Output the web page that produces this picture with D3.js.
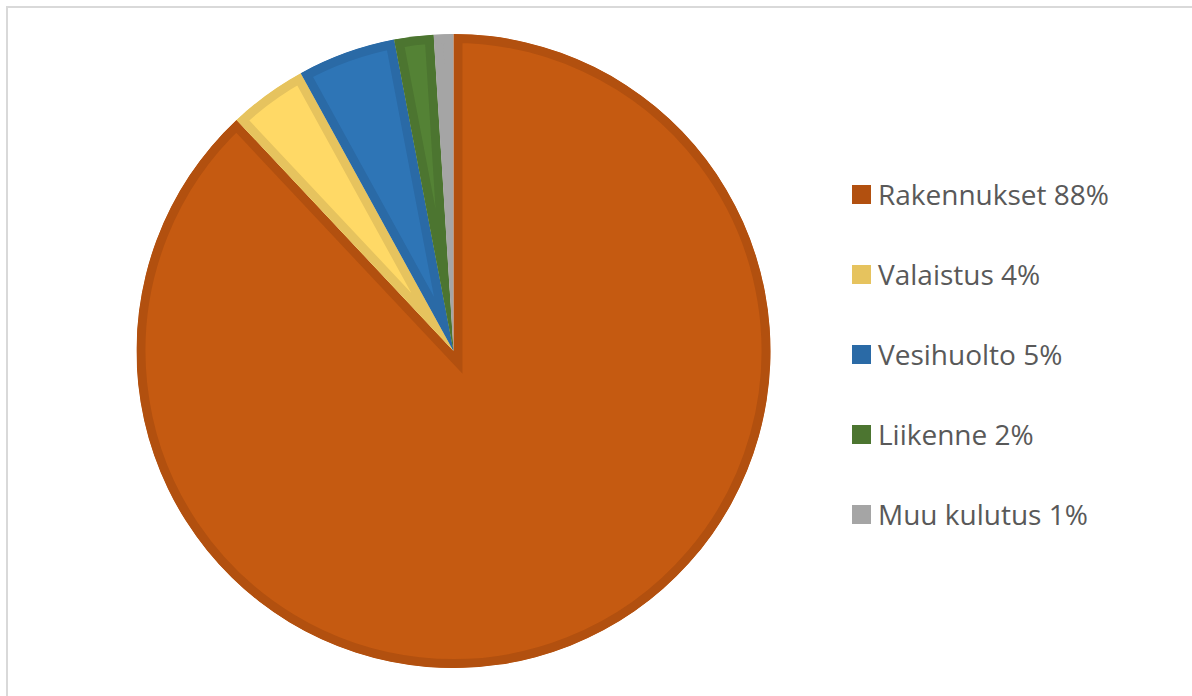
<!DOCTYPE html>
<html>
<head>
<meta charset="utf-8">
<script src="https://d3js.org/d3.v7.min.js"></script>
<style>
  body { margin: 0; background: #fff; }
  svg { display: block; }
</style>
</head>
<body>
<svg id="chart" width="1192" height="696"></svg>
<script>
// data
var labels = ["Rakennukset", "Valaistus", "Vesihuolto", "Liikenne", "Muu kulutus"];
var shares = [88, 4, 5, 2, 1];
var fills = ["#C55A11", "#FFD966", "#2E75B6", "#548235", "#A5A5A5"];
var edges = ["#B2500F", "#E6C35E", "#2A6AA6", "#4C7530", "#A5A5A5"];

var svg = d3.select("#chart");

// chart frame
svg.append("rect")
    .attr("x", 7).attr("y", 7)
    .attr("width", 1200).attr("height", 700)
    .attr("fill", "none")
    .attr("stroke", "#d9d9d9")
    .attr("stroke-width", 2);

var cx = 453.5, cy = 351, r = 317;
var band = 9;

var pie = d3.pie().sort(null).value(function (d) { return d; });
var arc = d3.arc().innerRadius(0).outerRadius(r);
var arcs = pie(shares);

var defs = svg.append("defs");
var g = svg.append("g").attr("transform", "translate(" + cx + "," + cy + ")");

arcs.forEach(function (a, i) {
    defs.append("clipPath").attr("id", "clip" + i)
        .append("path").attr("d", arc(a));
    g.append("path")
        .attr("d", arc(a))
        .attr("fill", fills[i])
        .attr("stroke", edges[i])
        .attr("stroke-width", band * 2)
        .attr("stroke-linejoin", "miter")
        .attr("clip-path", "url(#clip" + i + ")");
});

// legend
var legend = svg.append("g").attr("transform", "translate(852,194.5)");
var rows = legend.selectAll("g").data(labels).enter().append("g")
    .attr("transform", function (d, i) { return "translate(0," + (i * 80) + ")"; });

rows.append("rect")
    .attr("x", 0).attr("y", -9.5)
    .attr("width", 19).attr("height", 19)
    .attr("fill", function (d, i) { return edges[i]; });

rows.append("text")
    .attr("x", 26).attr("y", 10)
    .style("font-family", "'Open Sans', Lato, sans-serif")
    .style("font-size", "28px")
    .style("fill", "#595959")
    .text(function (d, i) { return d + " " + shares[i] + "%"; });
</script>
</body>
</html>
